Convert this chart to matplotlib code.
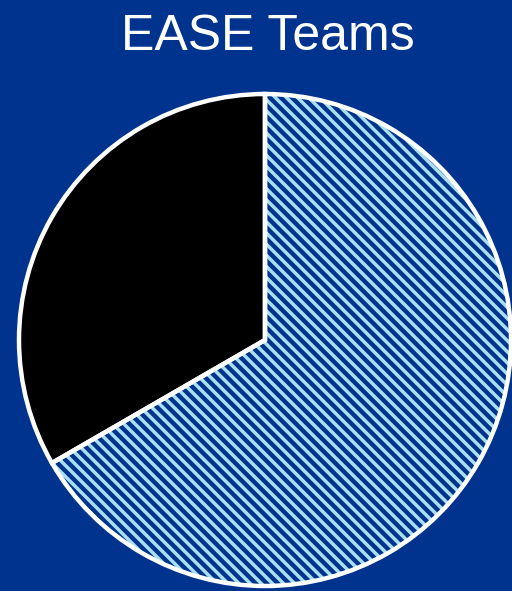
import matplotlib
matplotlib.use("Agg")
import matplotlib.pyplot as plt

# Data
labels = ["Other", "EASE"]
shares = [1 / 3, 2 / 3]

bg = "#00338D"
stripe = "#A8E0F2"

plt.rcParams["hatch.linewidth"] = 2.5

fig = plt.figure(figsize=(5.12, 5.91), dpi=100, facecolor=bg)
ax = fig.add_axes([0, 0, 1, 1])
ax.set_facecolor(bg)

center = (265, 251)
radius = 246

# Filled wedges (hatch colour comes from edgecolor)
wedges, _ = ax.pie(shares, startangle=90, counterclock=True,
                   center=center, radius=radius,
                   colors=["black", bg], frame=True)
wedges[0].set_edgecolor("black")
wedges[0].set_linewidth(0)
wedges[1].set_hatch("\\\\\\")
wedges[1].set_edgecolor(stripe)
wedges[1].set_linewidth(0)

# White outlines on top
ax.pie(shares, startangle=90, counterclock=True, center=center, radius=radius,
       colors=["none", "none"], frame=True,
       wedgeprops=dict(edgecolor="white", linewidth=3.2, fill=False))

ax.set_xlim(0, 512)
ax.set_ylim(0, 591)
ax.set_aspect("equal")
ax.axis("off")

fig.text(0.523, 0.938, "EASE Teams", color="white", fontsize=36,
         family="Liberation Sans", ha="center", va="center")

fig.savefig("out.png", dpi=100, facecolor=bg)
